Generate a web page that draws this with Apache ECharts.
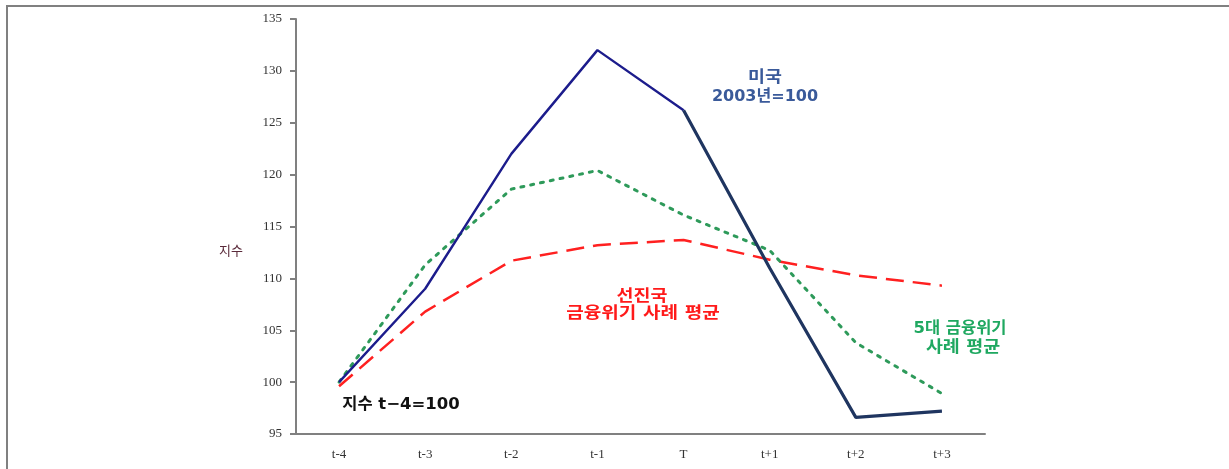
<!DOCTYPE html>
<html>
<head>
<meta charset="utf-8">
<script src="https://cdn.jsdelivr.net/npm/echarts@6/dist/echarts.min.js"></script>
<style>
html,body{margin:0;padding:0;background:#fff;}
#c{width:1229px;height:469px;}
</style>
</head>
<body>
<div id="c"></div>
<script>
const categories = ['t-4','t-3','t-2','t-1','T','t+1','t+2','t+3'];
const usValues = [100, 109, 122, 132, 126.2, 111, 96.6, 97.2];
const advancedValues = [99.6, 106.8, 111.7, 113.2, 113.7, 111.8, 110.3, 109.3];
const bigFiveValues = [100, 111.3, 118.6, 120.4, 116.1, 112.7, 103.8, 98.9];
const yTicks = [95, 100, 105, 110, 115, 120, 125, 130, 135];
const splitIndex = 4; // T

const usBefore = usValues.map((v, i) => i <= splitIndex ? v : null);
const usAfter = usValues.map((v, i) => i >= splitIndex ? v : null);

const annFont = 'bold 16px "DejaVu Sans", "Noto Sans CJK KR"';
function ann(text, x, y, color, sx) {
  return { type: 'text', x: x, y: y, scaleX: sx || 1, style: { text: text, fill: color, font: annFont, align: 'center', verticalAlign: 'middle', textAlign: 'center', textVerticalAlign: 'middle' } };
}

const chart = echarts.init(document.getElementById('c'));
chart.setOption({
  animation: false,
  backgroundColor: '#fff',
  grid: { left: 296, right: 244, top: 19, bottom: 35 },
  xAxis: {
    type: 'category',
    data: categories,
    boundaryGap: true,
    axisLine: { lineStyle: { color: '#808080', width: 2 } },
    axisTick: { alignWithLabel: false, length: 6, lineStyle: { color: '#808080', width: 2 } },
    axisLabel: { fontFamily: 'Liberation Serif', fontSize: 13, color: '#333', margin: 14 }
  },
  yAxis: {
    type: 'value',
    min: yTicks[0],
    max: yTicks[yTicks.length - 1],
    interval: 5,
    splitLine: { show: false },
    axisLine: { show: true, lineStyle: { color: '#808080', width: 2 } },
    axisTick: { show: true, length: 6, lineStyle: { color: '#808080', width: 2 } },
    axisLabel: { fontFamily: 'Liberation Serif', fontSize: 13, color: '#333', margin: 14 }
  },
  series: [
    {
      name: '선진국 금융위기 사례 평균',
      type: 'line',
      data: advancedValues,
      symbol: 'none',
      lineStyle: { color: '#ff2020', width: 2.5, type: [18, 9] },
      z: 2
    },
    {
      name: '5대 금융위기 사례 평균',
      type: 'line',
      data: bigFiveValues,
      symbol: 'none',
      lineStyle: { color: '#2e9a5a', width: 3, type: [3, 7], cap: 'round' },
      z: 3
    },
    {
      name: '미국 (이전)',
      type: 'line',
      data: usBefore,
      symbol: 'none',
      connectNulls: false,
      lineStyle: { color: '#1c1c8c', width: 2.4 },
      z: 4
    },
    {
      name: '미국 (이후)',
      type: 'line',
      data: usAfter,
      symbol: 'none',
      connectNulls: false,
      lineStyle: { color: '#1f3560', width: 3.2 },
      z: 4
    }
  ],
  graphic: [
    { type: 'line', shape: { x1: 6, y1: 6, x2: 1229, y2: 6 }, style: { stroke: '#808080', lineWidth: 2 } },
    { type: 'line', shape: { x1: 7, y1: 5, x2: 7, y2: 469 }, style: { stroke: '#808080', lineWidth: 2 } },
    { type: 'text', x: 231, y: 250, style: { text: '지수', fill: '#5a2a3a', font: '13px "Noto Sans CJK KR"', align: 'center', verticalAlign: 'middle', textAlign: 'center', textVerticalAlign: 'middle' } },
    ann('미국', 765, 78, '#3a5a9a', 1.15),
    ann('2003년=100', 765, 97, '#3a5a9a', 1),
    ann('선진국', 642, 297, '#ff1a1a', 1.15),
    ann('금융위기 사례 평균', 643, 314, '#ff1a1a', 1.19),
    ann('5대 금융위기', 960, 329, '#1fa860', 1.03),
    ann('사례 평균', 963, 348, '#1fa860', 1.15),
    ann('지수 t−4=100', 401, 405, '#111', 1.03)
  ]
});
</script>
</body>
</html>
